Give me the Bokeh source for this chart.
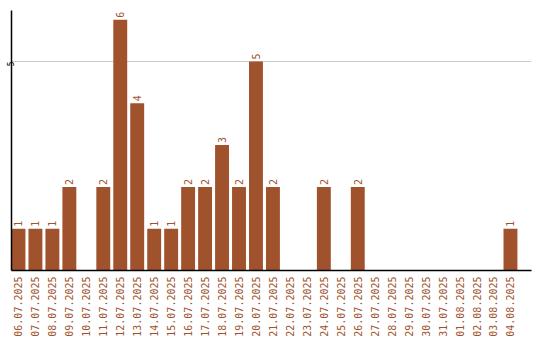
import numpy as np
from bokeh.plotting import figure
from bokeh.models import Range1d, FixedTicker, ColumnDataSource
from bokeh.core.properties import value
from bokeh.embed import file_html
from bokeh.resources import INLINE

dates = ["06.07.2025", "07.07.2025", "08.07.2025", "09.07.2025", "10.07.2025",
         "11.07.2025", "12.07.2025", "13.07.2025", "14.07.2025", "15.07.2025",
         "16.07.2025", "17.07.2025", "18.07.2025", "19.07.2025", "20.07.2025",
         "21.07.2025", "22.07.2025", "23.07.2025", "24.07.2025", "25.07.2025",
         "26.07.2025", "27.07.2025", "28.07.2025", "29.07.2025", "30.07.2025",
         "31.07.2025", "01.08.2025", "02.08.2025", "03.08.2025", "04.08.2025"]
counts = [1, 1, 1, 2, 0, 2, 6, 4, 1, 1, 2, 2, 3, 2, 5, 2, 0, 0, 2, 0,
          2, 0, 0, 0, 0, 0, 0, 0, 0, 1]
y_ticks = [5]

COL = "#A0522D"
FONT = "DejaVu Sans Mono"

idx = list(range(len(dates)))
nz = [i for i in idx if counts[i] > 0]
src = ColumnDataSource(dict(x=[i for i in nz], top=[counts[i] for i in nz],
                            lab=[str(counts[i]) for i in nz]))

p = figure(width=540, height=340, output_backend="svg", toolbar_location=None,
           x_range=Range1d(-0.41, 30.24), y_range=Range1d(0, 6.22),
           min_border_left=0, min_border_right=9, min_border_top=10, min_border_bottom=70)
p.outline_line_color = None
p.background_fill_color = "white"
p.border_fill_color = "white"

p.vbar(x="x", top="top", width=0.82, source=src, fill_color=COL, line_color=None)
p.text(x="x", y="top", text="lab", source=src, angle=np.pi / 2,
       text_align="left", text_baseline="middle", x_offset=0, y_offset=-2,
       text_font=value(FONT), text_font_size="10px", text_color=COL)

p.xaxis.ticker = FixedTicker(ticks=idx)
p.xaxis.major_label_overrides = {i: d for i, d in enumerate(dates)}
p.xaxis.major_label_orientation = np.pi / 2
p.xaxis.major_label_text_font = FONT
p.xaxis.major_label_text_font_size = "10px"
p.xaxis.major_label_text_color = COL
p.xaxis.major_tick_line_color = None
p.xaxis.minor_tick_line_color = None
p.xaxis.major_tick_out = 0
p.xaxis.minor_tick_out = 0
p.xaxis.major_label_standoff = 6
p.xaxis.axis_line_color = "black"
p.xaxis.axis_line_width = 1.5

p.yaxis.ticker = FixedTicker(ticks=y_ticks)
p.yaxis.major_label_orientation = np.pi / 2
p.yaxis.major_label_text_font = FONT
p.yaxis.major_label_text_font_size = "8px"
p.yaxis.major_label_text_color = "black"
p.yaxis.major_tick_line_color = None
p.yaxis.minor_tick_line_color = None
p.yaxis.major_tick_out = 0
p.yaxis.minor_tick_out = 0
p.yaxis.major_label_standoff = 1
p.yaxis.axis_line_color = "black"
p.yaxis.axis_line_width = 1.5

p.xgrid.grid_line_color = None
p.ygrid.ticker = FixedTicker(ticks=y_ticks)
p.ygrid.grid_line_color = "#cccccc"

open("out.html", "w").write(file_html(p, INLINE))
